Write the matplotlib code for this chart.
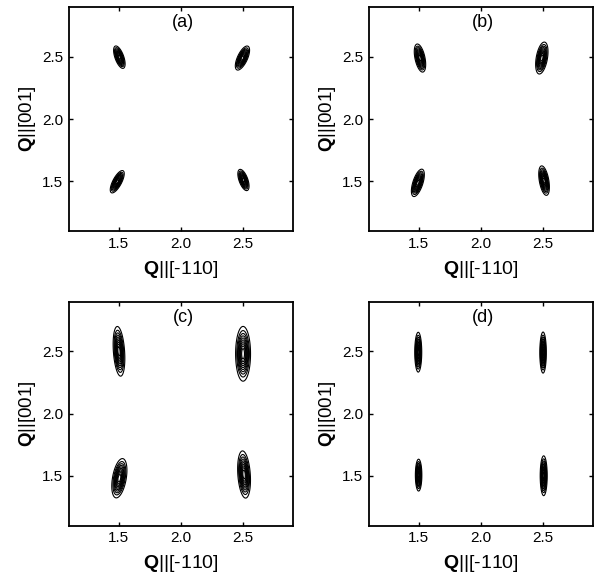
import numpy as np
import matplotlib
matplotlib.use("Agg")
import matplotlib.pyplot as plt

plt.rcParams["font.family"] = ["Liberation Sans", "DejaVu Sans"]
plt.rcParams["mathtext.fontset"] = "custom"
plt.rcParams["mathtext.rm"] = "Liberation Sans"
plt.rcParams["mathtext.bf"] = "Liberation Sans:bold"

PANELS = ["(a)", "(b)", "(c)", "(d)"]
TICKS = [1.5, 2.0, 2.5]
TICK_LABELS = ["1.5", "2.0", "2.5"]

# peak parameters per panel, order: (1.5,2.5), (2.5,2.5), (1.5,1.5), (2.5,1.5)
PEAK_X = [
    [1.505, 2.495, 1.488, 2.503],
    [1.510, 2.490, 1.493, 2.508],
    [1.502, 2.500, 1.505, 2.508],
    [1.496, 2.500, 1.499, 2.505],
]
PEAK_Y = [
    [2.497, 2.490, 1.496, 1.510],
    [2.490, 2.490, 1.487, 1.505],
    [2.500, 2.480, 1.480, 1.510],
    [2.493, 2.490, 1.505, 1.500],
]
# half length along long axis (outer contour) and half width
HALF_LEN = [
    [0.095, 0.105, 0.100, 0.090],
    [0.115, 0.130, 0.115, 0.120],
    [0.200, 0.220, 0.160, 0.190],
    [0.160, 0.165, 0.128, 0.160],
]
HALF_WID = [
    [0.035, 0.040, 0.035, 0.035],
    [0.040, 0.045, 0.040, 0.038],
    [0.045, 0.060, 0.055, 0.050],
    [0.028, 0.026, 0.026, 0.028],
]
# tilt of the long axis from vertical, degrees (positive = top leans right)
TILT = [
    [-20, 25, 28, -20],
    [-12, 10, 18, -10],
    [-4, 0, 10, -4],
    [0, 0, 0, 0],
]
LEVELS = np.linspace(0.1, 0.92, 10)

fig = plt.figure(figsize=(6.0, 5.81), dpi=100)
positions = [
    [0.115, 0.6024, 0.373, 0.3855],
    [0.615, 0.6024, 0.373, 0.3855],
    [0.115, 0.0955, 0.373, 0.3855],
    [0.615, 0.0955, 0.373, 0.3855],
]

g = np.linspace(1.1, 2.9, 700)
X, Y = np.meshgrid(g, g)
k = np.sqrt(2 * np.log(10))  # outer level 0.1 at half length

for p, pos in enumerate(positions):
    ax = fig.add_axes(pos)
    Z = np.zeros_like(X)
    for i in range(4):
        th = np.radians(TILT[p][i])
        dx = X - PEAK_X[p][i]
        dy = Y - PEAK_Y[p][i]
        u = dx * np.cos(th) - dy * np.sin(th)   # across
        v = dx * np.sin(th) + dy * np.cos(th)   # along
        su = HALF_WID[p][i] / k
        sv = HALF_LEN[p][i] / k
        Z = np.maximum(Z, np.exp(-0.5 * ((u / su) ** 2 + (v / sv) ** 2)))
    ax.contour(X, Y, Z, levels=LEVELS, colors="black", linewidths=0.8)
    ax.set_xlim(1.1, 2.9)
    ax.set_ylim(1.1, 2.9)
    ax.set_xticks(TICKS)
    ax.set_xticklabels(TICK_LABELS)
    ax.set_yticks(TICKS)
    ax.set_yticklabels(TICK_LABELS)
    ax.tick_params(direction="in", length=3, width=1, top=True, right=True,
                   labelsize=11, pad=4)
    for s in ax.spines.values():
        s.set_linewidth(1.3)
    ax.text(0.51, 0.93, PANELS[p], transform=ax.transAxes, ha="center",
            va="center", fontsize=13)
    ax.set_xlabel(r"$\mathbf{Q}$||[-110]", fontsize=14, labelpad=6)
    ax.set_ylabel(r"$\mathbf{Q}$||[001]", fontsize=13.5, labelpad=3)

fig.savefig("out.png", dpi=100)
